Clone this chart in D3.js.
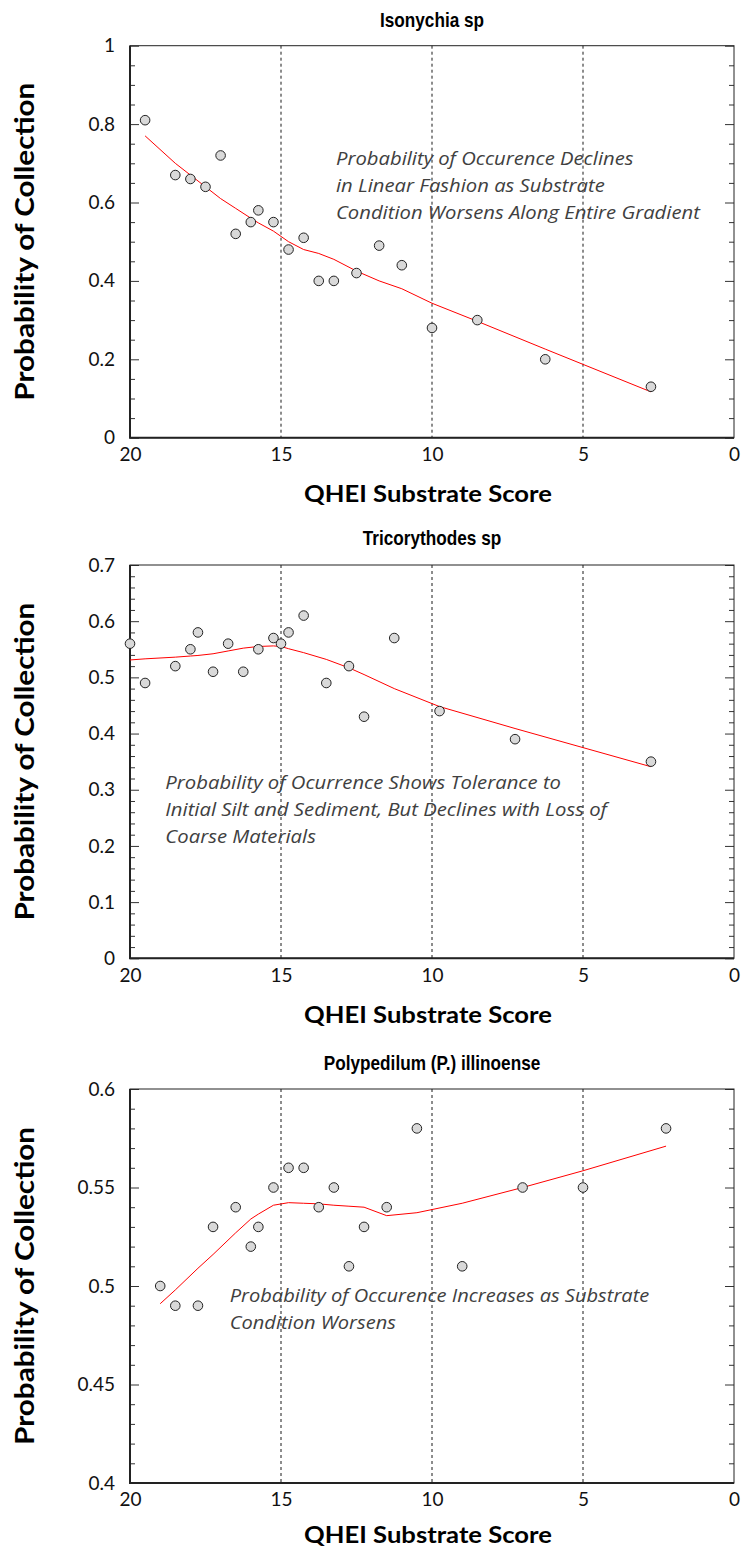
<!DOCTYPE html>
<html><head><meta charset="utf-8">
<script src="https://cdn.jsdelivr.net/npm/d3@7"></script>
<style>body{margin:0;background:#fff} svg{display:block}</style>
</head><body><svg id="c" width="741" height="1551"></svg>
<script>
// ---------- shared ----------
const xTicks = [20, 15, 10, 5, 0];
const xTickLabels = ["20", "15", "10", "5", "0"];
const gridX = [15, 10, 5];
const xTitle = "QHEI Substrate Score";
const yTitle = "Probability of Collection";

// ---------- panel 1: Isonychia sp ----------
const p1Title = "Isonychia sp";
const p1X = [19.5, 18.5, 18.0, 17.5, 17.0, 16.5, 16.0, 15.75, 15.25, 14.75, 14.25, 13.75, 13.25, 12.5, 11.75, 11.0, 10.0, 8.5, 6.25, 2.75];
const p1Y = [0.81, 0.67, 0.66, 0.64, 0.72, 0.52, 0.55, 0.58, 0.55, 0.48, 0.51, 0.40, 0.40, 0.42, 0.49, 0.44, 0.28, 0.30, 0.20, 0.13];
const p1Fit = [0.77, 0.70, 0.67, 0.64, 0.61, 0.585, 0.56, 0.548, 0.527, 0.50, 0.48, 0.47, 0.455, 0.425, 0.40, 0.38, 0.343, 0.297, 0.226, 0.117];
const p1YTicks = [0, 0.2, 0.4, 0.6, 0.8, 1];
const p1YTickLabels = ["0", "0.2", "0.4", "0.6", "0.8", "1"];
const p1Note = ["Probability of Occurence Declines", "in Linear Fashion as Substrate", "Condition Worsens Along Entire Gradient"];

// ---------- panel 2: Tricorythodes sp ----------
const p2Title = "Tricorythodes sp";
const p2X = [20, 19.5, 18.5, 18.0, 17.75, 17.25, 16.75, 16.25, 15.75, 15.25, 15.0, 14.75, 14.25, 13.5, 12.75, 12.25, 11.25, 9.75, 7.25, 2.75];
const p2Y = [0.56, 0.49, 0.52, 0.55, 0.58, 0.51, 0.56, 0.51, 0.55, 0.57, 0.56, 0.58, 0.61, 0.49, 0.52, 0.43, 0.57, 0.44, 0.39, 0.35];
const p2Fit = [0.531, 0.533, 0.536, 0.538, 0.539, 0.542, 0.547, 0.552, 0.555, 0.556, 0.555, 0.551, 0.544, 0.532, 0.517, 0.505, 0.48, 0.448, 0.409, 0.341];
const p2YTicks = [0, 0.1, 0.2, 0.3, 0.4, 0.5, 0.6, 0.7];
const p2YTickLabels = ["0", "0.1", "0.2", "0.3", "0.4", "0.5", "0.6", "0.7"];
const p2Note = ["Probability of Ocurrence Shows Tolerance to", "Initial Silt and Sediment, But Declines with Loss of", "Coarse Materials"];

// ---------- panel 3: Polypedilum (P.) illinoense ----------
const p3Title = "Polypedilum (P.) illinoense";
const p3X = [19.0, 18.5, 17.75, 17.25, 16.5, 16.0, 15.75, 15.25, 14.75, 14.25, 13.75, 13.25, 12.75, 12.25, 11.5, 10.5, 9.0, 7.0, 5.0, 2.25];
const p3Y = [0.50, 0.49, 0.49, 0.53, 0.54, 0.52, 0.53, 0.55, 0.56, 0.56, 0.54, 0.55, 0.51, 0.53, 0.54, 0.58, 0.51, 0.55, 0.55, 0.58];
const p3Fit = [0.491, 0.498, 0.509, 0.516, 0.527, 0.534, 0.5365, 0.541, 0.5423, 0.542, 0.5417, 0.541, 0.5405, 0.540, 0.5357, 0.5372, 0.542, 0.55, 0.5585, 0.571];
const p3YTicks = [0.4, 0.45, 0.5, 0.55, 0.6];
const p3YTickLabels = ["0.4", "0.45", "0.5", "0.55", "0.6"];
const p3Note = ["Probability of Occurence Increases as Substrate", "Condition Worsens"];

// ---------- layout ----------
const L = 130, R = 734;
const panels = [
  {title: p1Title, xs: p1X, ys: p1Y, fit: p1Fit, yt: p1YTicks, ytl: p1YTickLabels, note: p1Note,
   top: 45.7, bottom: 437.7, minor: 20, titleY: 20, xTitleY: 494,
   noteAt: [13.18, 0.7135], noteW: 364},
  {title: p2Title, xs: p2X, ys: p2Y, fit: p2Fit, yt: p2YTicks, ytl: p2YTickLabels, note: p2Note,
   top: 565, bottom: 958.3, minor: 35, titleY: 538, xTitleY: 1015,
   noteAt: [18.83, 0.314], noteW: 442},
  {title: p3Title, xs: p3X, ys: p3Y, fit: p3Fit, yt: p3YTicks, ytl: p3YTickLabels, note: p3Note,
   top: 1089, bottom: 1483, minor: 20, titleY: 1063, xTitleY: 1535,
   noteAt: [16.7, 0.4955], noteW: 420}
];

const svg = d3.select("#c");
const x = d3.scaleLinear().domain([20, 0]).range([L, R]);
const calibri = "Lato, 'Open Sans', sans-serif";

function squeeze(sel, target) {
  const w = sel.node().getComputedTextLength();
  return target / w;
}

panels.forEach(p => {
  const y = d3.scaleLinear().domain([p.yt[0], p.yt[p.yt.length - 1]]).range([p.bottom, p.top]);
  const g = svg.append("g");

  // gridlines
  g.selectAll("line.grid").data(gridX).enter().append("line")
    .attr("x1", d => x(d)).attr("x2", d => x(d))
    .attr("y1", p.top).attr("y2", p.bottom)
    .attr("stroke", "#000").attr("stroke-width", 0.9).attr("stroke-dasharray", "3,3");

  // minor ticks (inward, both sides)
  const minorT = y.ticks(p.minor).filter(v => !p.yt.some(t => Math.abs(t - v) < 1e-9));
  g.append("g").attr("transform", `translate(${L},0)`)
    .call(d3.axisLeft(y).tickValues(minorT).tickSize(-5).tickFormat(""))
    .call(a => a.select(".domain").remove())
    .selectAll("line").attr("stroke", "#333");
  g.append("g").attr("transform", `translate(${R},0)`)
    .call(d3.axisRight(y).tickValues(minorT).tickSize(-5).tickFormat(""))
    .call(a => a.select(".domain").remove())
    .selectAll("line").attr("stroke", "#333");

  // major y ticks with labels
  const ya = g.append("g").attr("transform", `translate(${L},0)`)
    .call(d3.axisLeft(y).tickValues(p.yt).tickSize(-9).tickPadding(15)
      .tickFormat((d, i) => p.ytl[i]));
  ya.select(".domain").remove();
  ya.selectAll("line").attr("stroke", "#333");
  ya.selectAll("text").attr("font-family", calibri).attr("font-size", 19).attr("fill", "#111");
  g.append("g").attr("transform", `translate(${R},0)`)
    .call(d3.axisRight(y).tickValues(p.yt).tickSize(-9).tickFormat(""))
    .call(a => a.select(".domain").remove())
    .selectAll("line").attr("stroke", "#333");

  // x axis labels
  const xa = g.append("g").attr("transform", `translate(0,${p.bottom})`)
    .call(d3.axisBottom(x).tickValues(xTicks).tickSize(0).tickPadding(10)
      .tickFormat((d, i) => xTickLabels[i]));
  xa.select(".domain").remove();
  xa.selectAll("text").attr("font-family", calibri).attr("font-size", 19).attr("fill", "#111");

  // frame
  g.append("rect").attr("x", L).attr("y", p.top).attr("width", R - L).attr("height", p.bottom - p.top)
    .attr("fill", "none").attr("stroke", "#222").attr("stroke-width", 1);
  g.append("line").attr("x1", L).attr("x2", L).attr("y1", p.top).attr("y2", p.bottom)
    .attr("stroke", "#222").attr("stroke-width", 2);
  g.append("line").attr("x1", L - 1).attr("x2", R).attr("y1", p.bottom).attr("y2", p.bottom)
    .attr("stroke", "#222").attr("stroke-width", 2);

  // fitted line
  const fitData = p.xs.map((v, i) => [v, p.fit[i]]);
  g.append("path").datum(fitData)
    .attr("d", d3.line().x(d => x(d[0])).y(d => y(d[1])))
    .attr("fill", "none").attr("stroke", "#ff0000").attr("stroke-width", 1);

  // points
  g.selectAll("circle.pt").data(p.xs.map((v, i) => [v, p.ys[i]])).enter().append("circle")
    .attr("cx", d => x(d[0])).attr("cy", d => y(d[1])).attr("r", 4.8)
    .attr("fill", "#d9d9d9").attr("stroke", "#222").attr("stroke-width", 1);

  // annotation
  const ng = g.append("g");
  const texts = ng.selectAll("text").data(p.note).enter().append("text")
    .attr("x", 0).attr("y", (d, i) => i * 27).attr("dy", "0.35em")
    .attr("font-family", "'Open Sans', sans-serif").attr("font-style", "italic")
    .attr("font-size", 19).attr("fill", "#404040").text(d => d);
  let mw = 0; texts.each(function () { mw = Math.max(mw, this.getComputedTextLength()); });
  ng.attr("transform", `translate(${x(p.noteAt[0])},${y(p.noteAt[1])}) scale(${p.noteW / mw},1)`);

  // panel title
  const tg = g.append("g");
  tg.append("text").attr("text-anchor", "middle").attr("dy", "0.35em")
    .attr("font-family", "'Liberation Sans', Arial, sans-serif").attr("font-weight", "bold")
    .attr("font-size", 20).attr("fill", "#000").text(p.title);
  tg.attr("transform", `translate(${(L + R) / 2},${p.titleY}) scale(0.86,1)`);

  // x title
  const xg = g.append("g");
  const xt = xg.append("text").attr("text-anchor", "middle").attr("dy", "0.35em")
    .attr("font-family", calibri).attr("font-weight", "bold")
    .attr("font-size", 23).attr("fill", "#000").text(xTitle);
  xg.attr("transform", `translate(${(L + R) / 2 - 4},${p.xTitleY}) scale(${squeeze(xt, 248)},1)`);

  // y title
  const yg = g.append("g");
  const yt = yg.append("text").attr("text-anchor", "middle").attr("dy", "0.35em")
    .attr("font-family", calibri).attr("font-weight", "bold")
    .attr("font-size", 26).attr("fill", "#000").text(yTitle);
  yg.attr("transform", `translate(25,${(p.top + p.bottom) / 2}) rotate(-90) scale(${squeeze(yt, 318)},1)`);
});
</script></body></html>
